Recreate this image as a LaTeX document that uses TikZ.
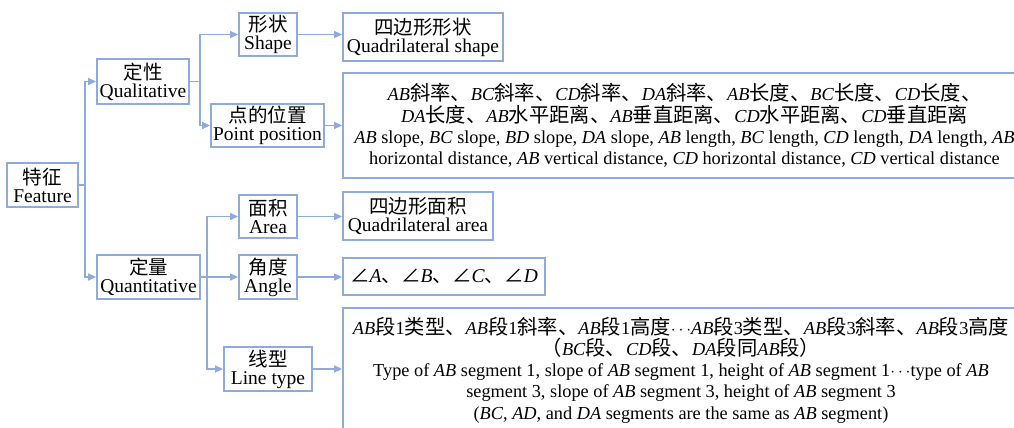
\documentclass[tikz,border=0pt]{standalone}
\usepackage{fontspec}
\setmainfont{Liberation Serif}
\newfontfamily\cjk{Noto Sans CJK SC}
\newfontfamily\cjkd[Scale=1.11]{Noto Sans CJK SC}
\usetikzlibrary{arrows.meta}
\definecolor{bl}{RGB}{143,170,220}
\newcommand{\zh}[1]{{\cjk #1}}
\newcommand{\zd}[1]{{\cjkd #1}}
\tikzset{
  box/.style={draw=bl, line width=1.8pt, inner sep=0pt, align=center,
    font=\fontsize{19.5}{18}\selectfont},
  dbox/.style={box, font=\fontsize{18.3}{21.3}\selectfont},
  conn/.style={draw=bl, line width=1.5pt, -{Triangle[length=8pt,width=7pt]}},
  link/.style={draw=bl, line width=1.5pt}
}
\begin{document}
\begin{tikzpicture}[x=1pt,y=-1pt]
\useasboundingbox (0,0) rectangle (1014,428);
\clip (0,0) rectangle (1014,428);
% level 0
\node[box, minimum width=71pt, minimum height=44pt] (feat) at (42.5,185) {\zh{特征}\\Feature};
% level 1
\node[box, minimum width=92pt, minimum height=45pt] (qual) at (143,81.5) {\zh{定性}\\Qualitative};
\node[box, minimum width=103pt, minimum height=44pt] (quan) at (148.5,277) {\zh{定量}\\Quantitative};
% level 2
\node[box, minimum width=58pt, minimum height=43pt] (shape) at (268,34.5) {\zh{形状}\\Shape};
\node[box, minimum width=113pt, minimum height=43pt] (pos) at (267.5,125.5) {\zh{点的位置}\\Point position};
\node[box, minimum width=58pt, minimum height=43pt] (area) at (268,216.5) {\zh{面积}\\Area};
\node[box, minimum width=58pt, minimum height=44pt] (angle) at (268,277) {\zh{角度}\\Angle};
\node[box, minimum width=88pt, minimum height=44pt] (ltype) at (268,369) {\zh{线型}\\Line type};
% level 3
\node[box, minimum width=160pt, minimum height=48pt] (qs) at (423,37) {\zh{四边形形状}\\Quadrilateral shape};
\node[dbox, minimum width=683pt, minimum height=105pt] (posd) at (684.5,125.5) {%
\textit{AB}\zd{斜率、}\textit{BC}\zd{斜率、}\textit{CD}\zd{斜率、}\textit{DA}\zd{斜率、}\textit{AB}\zd{长度、}\textit{BC}\zd{长度、}\textit{CD}\zd{长度、}\\
\textit{DA}\zd{长度、}\textit{AB}\zd{水平距离、}\textit{AB}\zd{垂直距离、}\textit{CD}\zd{水平距离、}\textit{CD}\zd{垂直距离}\\
\textit{AB} slope, \textit{BC} slope, \textit{BD} slope, \textit{DA} slope, \textit{AB} length, \textit{BC} length, \textit{CD} length, \textit{DA} length, \textit{AB}\\
horizontal distance, \textit{AB} vertical distance, \textit{CD} horizontal distance, \textit{CD} vertical distance};
\node[box, minimum width=150pt, minimum height=48pt] (qa) at (418,216) {\zh{四边形面积}\\Quadrilateral area};
\node[box, minimum width=202pt, minimum height=37pt] (angd) at (444,276.5) {\zh{∠}\textit{A}\zh{、∠}\textit{B}\zh{、∠}\textit{C}\zh{、∠}\textit{D}};
\node[dbox, minimum width=676pt, minimum height=124pt] (ltd) at (681,370) {%
\textit{AB}\zd{段}1\zd{类型、}\textit{AB}\zd{段}1\zd{斜率、}\textit{AB}\zd{段}1\zd{高度}$\cdots$\textit{AB}\zd{段}3\zd{类型、}\textit{AB}\zd{段}3\zd{斜率、}\textit{AB}\zd{段}3\zd{高度}\\
\zd{（}\textit{BC}\zd{段、}\textit{CD}\zd{段、}\textit{DA}\zd{段同}\textit{AB}\zd{段）}\\
Type of \textit{AB} segment 1, slope of \textit{AB} segment 1, height of \textit{AB} segment 1$\cdots$type of \textit{AB}\\
segment 3, slope of \textit{AB} segment 3, height of \textit{AB} segment 3\\
(\textit{BC}, \textit{AD}, and \textit{DA} segments are the same as \textit{AB} segment)};
% junctions
\coordinate (j0) at (85,185);
\coordinate (j1) at (200,81.5);
\coordinate (j2) at (207,277);
% connectors
\draw[link] (feat.east) -- (j0);
\draw[conn] (j0) |- (qual.west);
\draw[conn] (j0) |- (quan.west);
\draw[link] (qual.east) -- (j1);
\draw[conn] (j1) |- (shape.west);
\draw[conn] (j1) |- (pos.west);
\draw[link] (quan.east) -- (j2);
\draw[conn] (j2) |- (area.west);
\draw[conn] (j2) -- (angle.west);
\draw[conn] (j2) |- (ltype.west);
\draw[conn] (shape.east) -- (shape.east -| qs.west);
\draw[conn] (pos.east) -- (pos.east -| posd.west);
\draw[conn] (area.east) -- (area.east -| qa.west);
\draw[conn] (angle.east) -- (angle.east -| angd.west);
\draw[conn] (ltype.east) -- (ltype.east -| ltd.west);
\end{tikzpicture}
\end{document}
